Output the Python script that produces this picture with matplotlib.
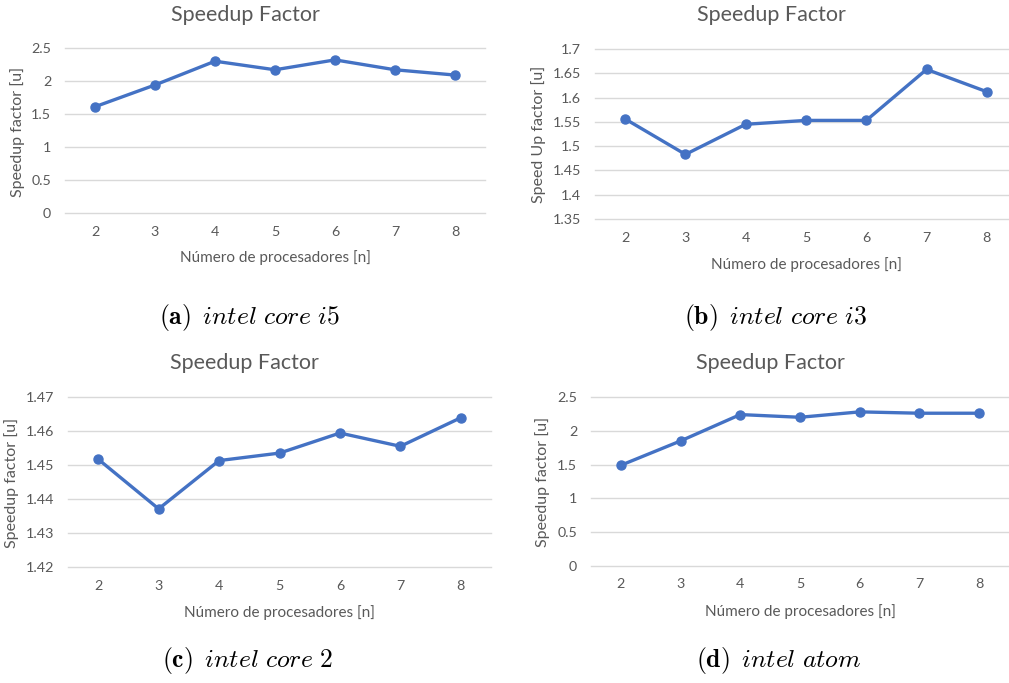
import numpy as np
import matplotlib
matplotlib.use('Agg')
import matplotlib.pyplot as plt

plt.rcParams['mathtext.fontset'] = 'cm'

# data
procs = ['2', '3', '4', '5', '6', '7', '8']
speed_i5 = [1.61, 1.94, 2.30, 2.17, 2.32, 2.17, 2.09]
speed_i3 = [1.556, 1.483, 1.545, 1.553, 1.553, 1.658, 1.612]
speed_core2 = [1.4517, 1.4371, 1.4513, 1.4535, 1.4594, 1.4555, 1.4639]
speed_atom = [1.49, 1.85, 2.24, 2.20, 2.28, 2.26, 2.26]

yticks_i5 = [0, 0.5, 1, 1.5, 2, 2.5]
yticks_i3 = [1.35, 1.4, 1.45, 1.5, 1.55, 1.6, 1.65, 1.7]
yticks_core2 = [1.42, 1.43, 1.44, 1.45, 1.46, 1.47]
yticks_atom = [0, 0.5, 1, 1.5, 2, 2.5]

W, H = 1009, 683
fig = plt.figure(figsize=(W / 100, H / 100), dpi=100)

GRAY = '#595959'
BLUE = '#4472C4'
FONT = 'Lato'


def px_axes(left, right, top, bottom):
    return fig.add_axes([left / W, 1 - bottom / H, (right - left) / W, (bottom - top) / H])


def panel(rect, vals, yticks, ylabel, xmax, title_xy, ylab_xy, xlab_xy, caption, cap_xy):
    ax = px_axes(*rect)
    x = np.arange(len(procs))
    ax.plot(x, vals, color=BLUE, lw=2.4, marker='o', ms=6.5, solid_capstyle='round', zorder=3)
    ax.set_xlim(-0.5, xmax)
    ax.set_ylim(yticks[0], yticks[-1])
    ax.set_yticks(yticks)
    ax.set_yticklabels([('%g' % t) for t in yticks], family=FONT, fontsize=10.3, color=GRAY)
    ax.set_xticks(x)
    ax.set_xticklabels(procs, family=FONT, fontsize=10.3, color=GRAY)
    ax.tick_params(length=0)
    ax.tick_params(axis='x', pad=9)
    ax.tick_params(axis='y', pad=10)
    for s in ax.spines.values():
        s.set_visible(False)
    for yy in yticks:
        ax.axhline(yy, color='#D9D9D9', lw=1, zorder=0, clip_on=False)

    fig.text(title_xy[0] / W, 1 - title_xy[1] / H, 'Speedup Factor', family=FONT,
             fontsize=15.5, color=GRAY, ha='center', va='center')
    fig.text(ylab_xy[0] / W, 1 - ylab_xy[1] / H, ylabel, family=FONT, fontsize=11.5,
             color=GRAY, ha='center', va='center', rotation=90)
    fig.text(xlab_xy[0] / W, 1 - xlab_xy[1] / H, 'Número de procesadores [n]', family=FONT,
             fontsize=11, color=GRAY, ha='center', va='center')
    fig.text(cap_xy[0] / W, 1 - cap_xy[1] / H, caption, fontsize=18.5, color='black',
             ha='center', va='center')
    return ax


panel((65, 485, 48, 213), speed_i5, yticks_i5, 'Speedup factor [u]', 6.5,
      (245, 15), (18, 132), (275, 258), r'$\mathbf{(a)}\enspace\mathit{intel\ core\ i5}$', (250, 318))
panel((595, 1009, 49, 219), speed_i3, yticks_i3, 'Speed Up factor [u]', 6.5 - 8 / 60.3,
      (771, 15), (539, 134), (806, 265), r'$\mathbf{(b)}\enspace\mathit{intel\ core\ i3}$', (776, 318))
panel((68, 491, 397, 567), speed_core2, yticks_core2, 'Speedup factor [u]', 6.5,
      (244, 363), (12, 483), (279, 613), r'$\mathbf{(c)}\enspace\mathit{intel\ core\ 2}$', (248, 660))
panel((591, 1009, 397, 566), speed_atom, yticks_atom, 'Speedup factor [u]', 6.5,
      (770, 363), (543, 482), (800, 612), r'$\mathbf{(d)}\enspace\mathit{intel\ atom}$', (779, 660))

fig.savefig('out.png', dpi=100)
